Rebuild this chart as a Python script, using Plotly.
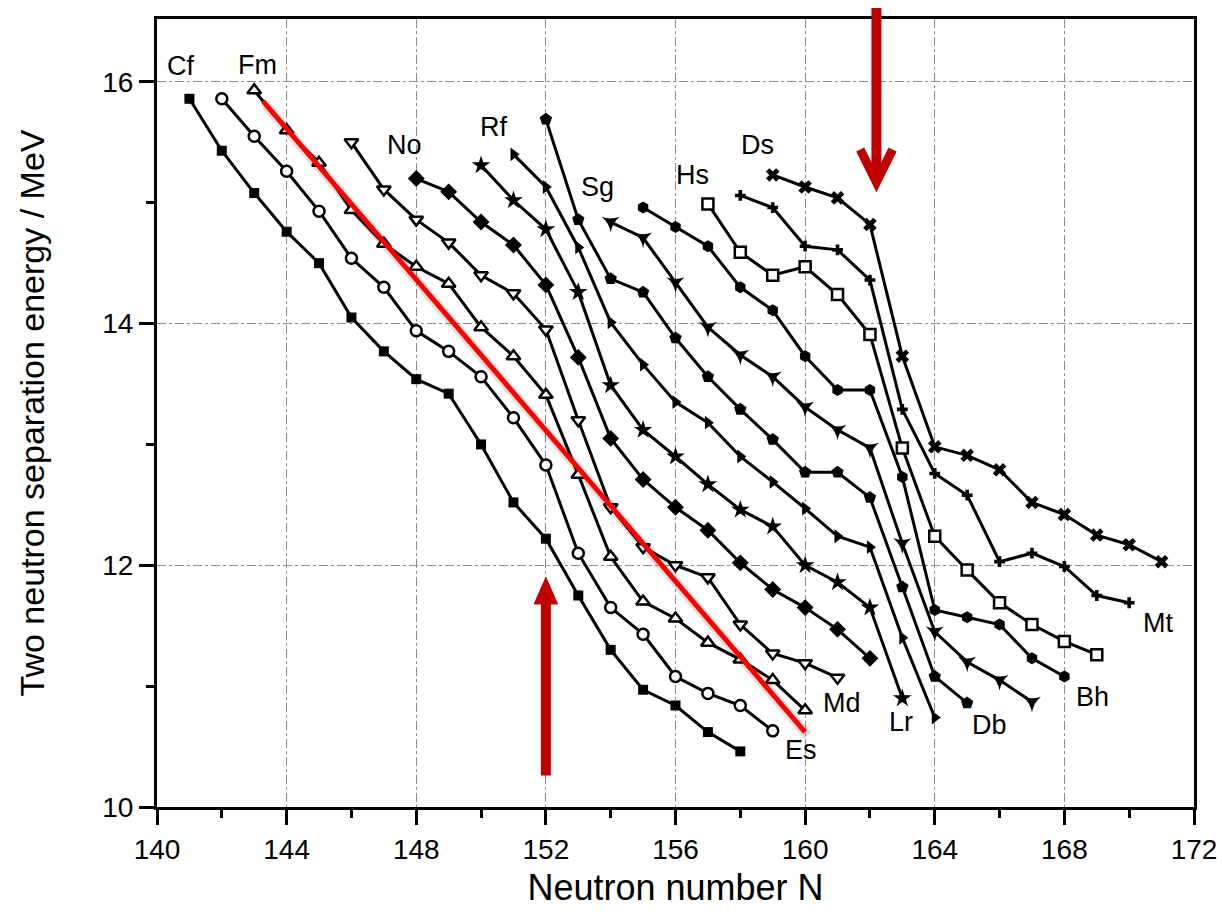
import plotly.graph_objects as go

# ---------------- data ----------------
elements = ["Cf", "Es", "Fm", "Md", "No", "Lr", "Rf", "Db", "Sg", "Bh", "Hs", "Mt", "Ds"]
start_N = [141, 142, 143, 146, 148, 150, 151, 152, 154, 155, 157, 158, 159]

s2n_Cf = [15.86, 15.43, 15.08, 14.76, 14.50, 14.05, 13.77, 13.54, 13.42, 13.00, 12.52, 12.22, 11.75, 11.30, 10.97, 10.84, 10.62, 10.46]
s2n_Es = [15.86, 15.55, 15.26, 14.93, 14.54, 14.30, 13.94, 13.77, 13.56, 13.22, 12.83, 12.10, 11.65, 11.43, 11.08, 10.94, 10.84, 10.63]
s2n_Fm = [15.93, 15.60, 15.33, 14.94, 14.66, 14.47, 14.33, 13.97, 13.73, 13.41, 12.75, 12.07, 11.70, 11.56, 11.36, 11.22, 11.05, 10.80]
s2n_Md = [15.50, 15.11, 14.86, 14.67, 14.40, 14.25, 13.95, 13.20, 12.48, 12.15, 12.00, 11.90, 11.51, 11.27, 11.19, 11.07]
s2n_No = [15.20, 15.09, 14.84, 14.65, 14.32, 13.72, 13.05, 12.71, 12.48, 12.29, 12.02, 11.80, 11.65, 11.47, 11.23]
s2n_Lr = [15.31, 15.02, 14.78, 14.26, 13.49, 13.12, 12.90, 12.67, 12.46, 12.32, 12.00, 11.86, 11.65, 10.90]
s2n_Rf = [15.40, 15.13, 14.63, 14.01, 13.66, 13.35, 13.18, 12.90, 12.69, 12.47, 12.24, 12.15, 11.40, 10.74]
s2n_Db = [15.69, 14.86, 14.37, 14.26, 13.88, 13.56, 13.29, 13.04, 12.77, 12.77, 12.56, 11.82, 11.08, 10.86]
s2n_Sg = [14.84, 14.71, 14.34, 13.97, 13.74, 13.56, 13.31, 13.12, 12.97, 12.18, 11.45, 11.20, 11.05, 10.87]
s2n_Bh = [14.96, 14.80, 14.64, 14.30, 14.11, 13.73, 13.45, 13.45, 12.73, 11.63, 11.57, 11.51, 11.23, 11.08]
s2n_Hs = [14.99, 14.59, 14.40, 14.47, 14.24, 13.91, 12.97, 12.24, 11.96, 11.69, 11.51, 11.37, 11.26]
s2n_Mt = [15.06, 14.96, 14.64, 14.61, 14.36, 13.29, 12.76, 12.58, 12.03, 12.10, 11.99, 11.75, 11.69]
s2n_Ds = [15.23, 15.13, 15.04, 14.82, 13.73, 12.98, 12.91, 12.79, 12.52, 12.42, 12.25, 12.17, 12.03]

series_values = [s2n_Cf, s2n_Es, s2n_Fm, s2n_Md, s2n_No, s2n_Lr, s2n_Rf,
                 s2n_Db, s2n_Sg, s2n_Bh, s2n_Hs, s2n_Mt, s2n_Ds]

# element label positions (N, energy)
label_N = [140.71, 159.88, 143.09, 161.14, 147.65, 162.96, 150.37, 165.68, 153.58, 168.86, 156.51, 170.9, 158.52]
label_E = [16.13, 10.47, 16.14, 10.86, 15.48, 10.70, 15.63, 10.68, 15.13, 10.91, 15.23, 11.52, 15.48]

# red guide line endpoints
red_N = [143.27, 160.0]
red_E = [15.84, 10.62]

# arrows: (N, tail energy, tip energy)
arrow_down = (162.2, 16.61, 15.17)
arrow_up = (152.0, 10.26, 11.90)

x_ticks = [140, 144, 148, 152, 156, 160, 164, 168, 172]
y_ticks = [10, 12, 14, 16]
X_RANGE = [140, 172]
Y_RANGE = [10, 16.52]

# ---------------- styles ----------------
marker_styles = {
    "Cf": dict(symbol="square", size=10, color="black"),
    "Es": dict(symbol="circle", size=11, color="white", line=dict(color="black", width=2.5)),
    "Fm": dict(symbol="triangle-up", size=12, color="white", line=dict(color="black", width=2.5)),
    "Md": dict(symbol="triangle-down", size=12, color="white", line=dict(color="black", width=2.5)),
    "No": dict(symbol="diamond", size=13, color="black"),
    "Lr": dict(symbol="star", size=14, color="black"),
    "Rf": dict(symbol="triangle-right", size=12, color="black"),
    "Db": dict(symbol="pentagon", size=13, color="black"),
    "Sg": dict(symbol="star-triangle-down", size=13, color="black"),
    "Bh": dict(symbol="hexagon", size=12, color="black"),
    "Hs": dict(symbol="square", size=11, color="white", line=dict(color="black", width=2.5)),
    "Mt": dict(symbol="cross", size=9, color="black"),
    "Ds": dict(symbol="x", size=12, color="black"),
}

FONT = "Liberation Sans, Arial, sans-serif"

fig = go.Figure()

# red line with soft shadow
fig.add_trace(go.Scatter(x=[n + 0.08 for n in red_N], y=[e - 0.03 for e in red_E], mode="lines",
                         line=dict(color="rgba(0,0,0,0.12)", width=10), showlegend=False, hoverinfo="skip"))

for el, n0, vals in zip(elements, start_N, series_values):
    ns = list(range(n0, n0 + len(vals)))
    fig.add_trace(go.Scatter(x=ns, y=vals, mode="lines+markers", name=el,
                             line=dict(color="black", width=3),
                             marker=marker_styles[el], showlegend=False))

fig.add_trace(go.Scatter(x=red_N, y=red_E, mode="lines",
                         line=dict(color="#ff0000", width=5), showlegend=False))

# element labels
for el, ln, le in zip(elements, label_N, label_E):
    fig.add_annotation(x=ln, y=le, text=el, showarrow=False,
                       font=dict(family=FONT, size=27, color="black"))

# arrows (paper coordinates derived from the axis ranges)
def px(n):
    return (n - X_RANGE[0]) / (X_RANGE[1] - X_RANGE[0])

def py(e):
    return (e - Y_RANGE[0]) / (Y_RANGE[1] - Y_RANGE[0])

AR = "#c00000"
# down arrow (chevron head)
n, tail, tip = arrow_down
fig.add_shape(type="line", xref="paper", yref="paper", x0=px(n), x1=px(n), y0=py(tail), y1=py(tip + 0.05),
              line=dict(color=AR, width=10))
hw, hh = 0.50, 0.27
fig.add_shape(type="path", xref="paper", yref="paper",
              path=f"M {px(n-hw)},{py(tip+hh)} L {px(n)},{py(tip)} L {px(n+hw)},{py(tip+hh)}",
              line=dict(color=AR, width=9))
# up arrow (filled head)
n, tail, tip = arrow_up
fig.add_shape(type="line", xref="paper", yref="paper", x0=px(n), x1=px(n), y0=py(tail), y1=py(tip - 0.15),
              line=dict(color=AR, width=10))
hw, hh = 0.36, 0.22
fig.add_shape(type="path", xref="paper", yref="paper",
              path=f"M {px(n-hw)},{py(tip-hh)} L {px(n)},{py(tip)} L {px(n+hw)},{py(tip-hh)} Z",
              fillcolor=AR, line=dict(color=AR, width=1))

axis_common = dict(
    showline=True, linecolor="black", linewidth=3, mirror=True,
    ticks="outside", ticklen=15, tickwidth=3, tickcolor="black",
    showgrid=True, gridcolor="#8c8c8c", gridwidth=1.3, griddash="dashdot",
    zeroline=False,
    tickfont=dict(family=FONT, size=28, color="black"),
)

fig.update_xaxes(range=X_RANGE, tickvals=x_ticks, ticktext=[str(t) for t in x_ticks],
                 minor=dict(ticks="outside", ticklen=8, tickwidth=3, tickcolor="black",
                            dtick=2, tick0=140, showgrid=False),
                 title=dict(text="Neutron number N", font=dict(family=FONT, size=36, color="black"), standoff=12),
                 automargin=False, **axis_common)
fig.update_yaxes(range=Y_RANGE, tickvals=y_ticks, ticktext=[str(t) for t in y_ticks],
                 minor=dict(ticks="outside", ticklen=8, tickwidth=3, tickcolor="black",
                            dtick=1, tick0=10, showgrid=False),
                 title=dict(text="Two neutron separation energy / MeV",
                            font=dict(family=FONT, size=34, color="black"), standoff=48),
                 automargin=False, **axis_common)

fig.update_layout(width=1222, height=915, margin=dict(l=157, r=28, t=19, b=108),
                  plot_bgcolor="white", paper_bgcolor="white", showlegend=False)

fig.write_html("out.html")
